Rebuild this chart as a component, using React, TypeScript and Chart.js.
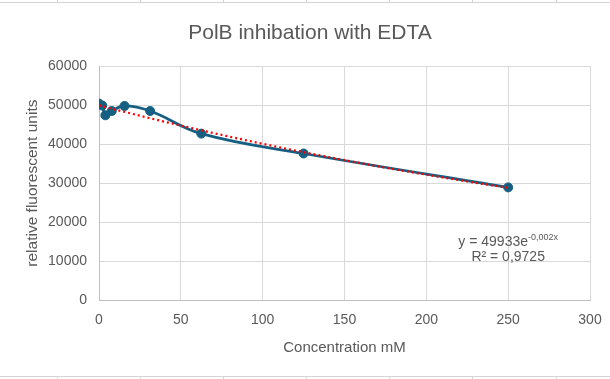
import React, { useEffect, useRef } from "react";
import { Chart, registerables } from "chart.js";

Chart.register(...registerables);

// ---- data ----
const concentrations = [0, 1.95, 3.9, 7.8, 15.6, 31.25, 62.5, 125, 250];
const fluorescence = [50400, 49900, 47400, 48500, 49800, 48500, 42700, 37600, 28900];
const xTickValues = [0, 50, 100, 150, 200, 250, 300];
const yTickValues = [0, 10000, 20000, 30000, 40000, 50000, 60000];
const chartTitle = "PolB inhibation with EDTA";
const xAxisTitle = "Concentration mM";
const yAxisTitle = "relative fluorescent units";
const equationMain = "y = 49933e";
const equationExp = "-0,002x";
const rSquaredText = "R² = 0,9725";
const labelAnchorX = 250;
const labelAnchorY1 = 15100;
const labelAnchorY2 = 11300;

const TEXT = "#595959";
const FONT = "'Liberation Sans', Arial, sans-serif";

// exponential least-squares fit (as the spreadsheet trendline does)
function expFit(xs: number[], ys: number[]) {
  const n = xs.length;
  const ly = ys.map((v) => Math.log(v));
  const mx = xs.reduce((s, v) => s + v, 0) / n;
  const my = ly.reduce((s, v) => s + v, 0) / n;
  let sxx = 0;
  let sxy = 0;
  for (let i = 0; i < n; i++) {
    sxx += (xs[i] - mx) * (xs[i] - mx);
    sxy += (xs[i] - mx) * (ly[i] - my);
  }
  const b = sxy / sxx;
  const a = Math.exp(my - b * mx);
  return { a, b };
}

const equationPlugin = {
  id: "equationLabel",
  afterDatasetsDraw(chart: any) {
    const { ctx, scales } = chart;
    const x = scales.x.getPixelForValue(labelAnchorX);
    const y1 = scales.y.getPixelForValue(labelAnchorY1);
    const y2 = scales.y.getPixelForValue(labelAnchorY2);
    ctx.save();
    ctx.fillStyle = TEXT;
    ctx.textBaseline = "alphabetic";
    ctx.textAlign = "left";
    const mainFont = `14px ${FONT}`;
    const supFont = `9px ${FONT}`;
    ctx.font = mainFont;
    const wMain = ctx.measureText(equationMain).width;
    ctx.font = supFont;
    const wExp = ctx.measureText(equationExp).width;
    const start = x - (wMain + wExp) / 2;
    ctx.font = mainFont;
    ctx.fillText(equationMain, start, y1 + 5);
    ctx.font = supFont;
    ctx.fillText(equationExp, start + wMain, y1 - 1);
    ctx.font = mainFont;
    ctx.textAlign = "center";
    ctx.fillText(rSquaredText, x, y2 + 5);
    ctx.restore();
  },
};

export default function App() {
  const ref = useRef<HTMLCanvasElement | null>(null);

  useEffect(() => {
    document.body.style.margin = "0";
    const canvas = ref.current;
    if (!canvas) return;
    const { a, b } = expFit(concentrations, fluorescence);
    const xMin = Math.min(...concentrations);
    const xMax = Math.max(...concentrations);
    const steps = 100;
    const trend = Array.from({ length: steps + 1 }, (_, i) => {
      const x = xMin + ((xMax - xMin) * i) / steps;
      return { x, y: a * Math.exp(b * x) };
    });
    const points = concentrations.map((x, i) => ({ x, y: fluorescence[i] }));

    const chart = new Chart(canvas, {
      type: "scatter",
      data: {
        datasets: [
          {
            label: "trend",
            data: trend,
            showLine: true,
            borderColor: "#ff0000",
            borderWidth: 2.25,
            borderDash: [2, 3],
            pointRadius: 0,
            tension: 0,
            order: 0,
          },
          {
            label: "data",
            data: points,
            showLine: true,
            borderColor: "#156082",
            backgroundColor: "#156082",
            borderWidth: 2.75,
            pointRadius: 4.5,
            pointBorderWidth: 1,
            pointBorderColor: "#156082",
            pointBackgroundColor: "#156082",
            tension: 0.4,
            order: 1,
          },
        ],
      },
      options: {
        responsive: false,
        animation: false,
        layout: { padding: { left: 10, right: 0, top: 0, bottom: 0 } },
        plugins: {
          legend: { display: false },
          tooltip: { enabled: false },
          title: {
            display: true,
            text: chartTitle,
            color: TEXT,
            font: { family: FONT, size: 21, weight: "normal" },
            padding: { top: 21, bottom: 20 },
          },
        },
        scales: {
          x: {
            type: "linear",
            min: 0,
            max: 300,
            afterBuildTicks: (s: any) => {
              s.ticks = xTickValues.map((v) => ({ value: v }));
            },
            ticks: { color: TEXT, font: { family: FONT, size: 14 }, padding: 12 },
            grid: { color: "#d9d9d9", drawTicks: false, lineWidth: 1 },
            border: { color: "#bfbfbf" },
            title: {
              display: true,
              text: xAxisTitle,
              color: TEXT,
              font: { family: FONT, size: 15 },
              padding: { top: 0, bottom: 22 },
            },
            afterFit: (s: any) => {
              s.height = 79;
              s.paddingRight = 20;
            },
          },
          y: {
            type: "linear",
            min: 0,
            max: 60000,
            afterBuildTicks: (s: any) => {
              s.ticks = yTickValues.map((v) => ({ value: v }));
            },
            ticks: {
              color: TEXT,
              font: { family: FONT, size: 14 },
              padding: 12,
              callback: (v: any) => String(v),
            },
            grid: { color: "#d9d9d9", drawTicks: false, lineWidth: 1 },
            border: { color: "#bfbfbf" },
            title: {
              display: true,
              text: yAxisTitle,
              color: TEXT,
              font: { family: FONT, size: 15.5 },
              padding: { top: 13, bottom: 0 },
            },
            afterFit: (s: any) => {
              s.width = 89;
            },
          },
        },
      },
      plugins: [equationPlugin],
    } as any);
    return () => chart.destroy();
  }, []);

  const colTicks = [57, 140, 223, 306, 389, 472, 556];
  return (
    <div style={{ position: "relative", width: 610, height: 379, background: "#fff", overflow: "hidden" }}>
      <canvas ref={ref} width={610} height={379} style={{ display: "block" }} />
      <div style={{ position: "absolute", left: 0, top: 2, width: 610, height: 1, background: "#d4d4d4" }} />
      <div style={{ position: "absolute", left: 0, top: 376, width: 610, height: 1, background: "#d4d4d4" }} />
      {colTicks.map((x) => (
        <React.Fragment key={x}>
          <div style={{ position: "absolute", left: x, top: 0, width: 1, height: 2, background: "#d4d4d4" }} />
          <div style={{ position: "absolute", left: x, top: 377, width: 1, height: 2, background: "#d4d4d4" }} />
        </React.Fragment>
      ))}
    </div>
  );
}
